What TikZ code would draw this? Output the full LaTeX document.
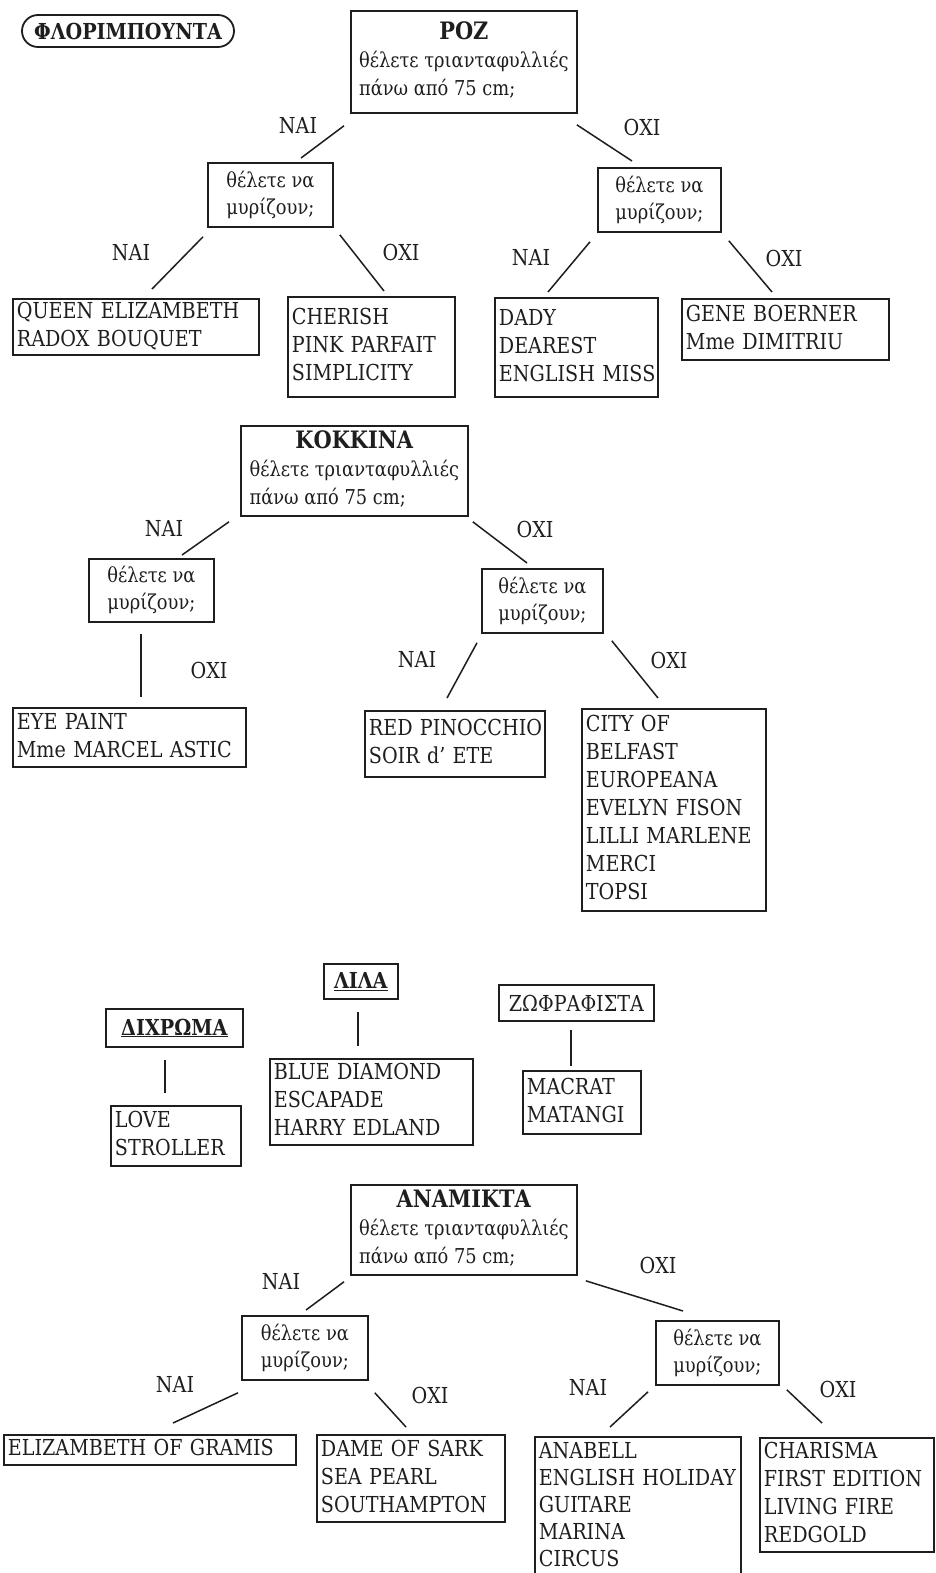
\documentclass[tikz,border=0pt]{standalone}
\usepackage{fontspec}
\setmainfont{DejaVu Serif}[FakeStretch=0.87]
\usetikzlibrary{calc}

\definecolor{ink}{HTML}{1E1E1E}
\newcommand{\mainsize}{\fontsize{22}{28}\selectfont}
\newcommand{\asksize}{\fontsize{20.5}{27}\selectfont}
\newcommand{\headsize}{\fontsize{24}{28}\selectfont}
% heading box: bold colour name, then the height question
\newcommand{\askhead}[1]{\begin{tabular}{@{}l@{}}\multicolumn{1}{@{}c@{}}{\headsize\textbf{#1}}\\
  {\asksize θέλετε τριανταφυλλιές}\\ {\asksize πάνω από 75 cm;}\end{tabular}}
% list of variety names, one per line, never wrapped
\newcommand{\names}[1]{\begin{tabular}{@{}l@{}}#1\end{tabular}}

\tikzset{
  frame/.style={draw=ink, line width=1.8pt, inner sep=0pt, text=ink},
  leaf/.style={frame, anchor=north west, align=left, inner xsep=4pt, font=\mainsize},
  ask/.style={frame, anchor=north west, align=center, font=\asksize},
  head/.style={frame, anchor=north west, font=\mainsize},
  link/.style={draw=ink, line width=1.5pt},
  answer/.style={font=\mainsize, inner sep=0pt, text=ink},
}

\begin{document}
\begin{tikzpicture}[x=1pt,y=-1pt]
\fill[white] (0,0) rectangle (936,1573);
\useasboundingbox (0,0) rectangle (936,1573);

% ---------- ΡΟΖ ----------
\node[frame, rounded corners=16pt, minimum width=212pt, minimum height=32pt,
      font=\mainsize\bfseries] (flori) at (128,31) {ΦΛΟΡΙΜΠΟΥΝΤΑ};
\node[head, minimum width=226pt, minimum height=102pt] (roz) at (350,10) {\askhead{ΡΟΖ}};
\node[ask, minimum width=125pt, minimum height=64pt] (q1l) at (207,162) {θέλετε να\\μυρίζουν;};
\node[ask, minimum width=123pt, minimum height=64pt] (q1r) at (597,167) {θέλετε να\\μυρίζουν;};
\node[answer] (a1y) at (298,126) {ΝΑΙ};
\node[answer] (a1n) at (642,127) {ΟΧΙ};
\draw[link] ($(roz.south west)+(-6,12)$) -- ($(q1l.north west)+(94,-4)$);
\draw[link] ($(roz.south east)+(-1,11)$) -- ($(q1r.north west)+(35,-6)$);

\node[leaf, text width=238pt, minimum height=53pt] (l1) at (12,298) {\names{QUEEN ELIZAMBETH\\RADOX BOUQUET}};
\node[leaf, text width=159pt, minimum height=100pt] (l2) at (287,296) {\names{CHERISH\\PINK PARFAIT\\SIMPLICITY}};
\node[leaf, text width=155pt, minimum height=99pt] (l3) at (494,297) {\names{DADY\\DEAREST\\ENGLISH MISS}};
\node[leaf, text width=199pt, minimum height=61pt] (l4) at (681,298) {\names{GENE BOERNER\\Mme DIMITRIU}};
\node[answer] (b1y) at (131,253) {ΝΑΙ};
\node[answer] (b1n) at (401,252) {ΟΧΙ};
\node[answer] (b2y) at (531,258) {ΝΑΙ};
\node[answer] (b2n) at (784,258) {ΟΧΙ};
\draw[link] ($(q1l.south west)+(-4,9)$) -- ($(l1.north west)+(140,-9)$);
\draw[link] ($(q1l.south east)+(6,7)$) -- ($(l2.north west)+(97,-5)$);
\draw[link] ($(q1r.south west)+(-7,9)$) -- ($(l3.north west)+(54,-5)$);
\draw[link] ($(q1r.south east)+(7,8)$) -- ($(l4.north west)+(91,-6)$);

% ---------- ΚΟΚΚΙΝΑ ----------
\node[head, minimum width=227pt, minimum height=90pt] (kok) at (240,425) {\askhead{ΚΟΚΚΙΝΑ}};
\node[ask, minimum width=125pt, minimum height=63pt] (q2l) at (88,558) {θέλετε να\\μυρίζουν;};
\node[ask, minimum width=121pt, minimum height=64pt] (q2r) at (481,568) {θέλετε να\\μυρίζουν;};
\node[answer] (c1y) at (164,529) {ΝΑΙ};
\node[answer] (c1n) at (535,529) {ΟΧΙ};
\draw[link] ($(kok.south west)+(-11,5)$) -- ($(q2l.north west)+(94,-3)$);
\draw[link] ($(kok.south east)+(4,5)$) -- ($(q2r.north west)+(46,-5)$);

\node[leaf, text width=225pt, minimum height=59pt] (eye) at (12,707) {\names{EYE PAINT\\Mme MARCEL ASTIC}};
\node[leaf, text width=172pt, minimum height=66pt] (red) at (364,710) {\names{RED PINOCCHIO\\SOIR d' ETE}};
\node[leaf, text width=176pt, minimum height=202pt] (city) at (581,708)
  {\names{CITY OF\\BELFAST\\EUROPEANA\\EVELYN FISON\\LILLI MARLENE\\MERCI\\TOPSI}};
\node[answer] (d1n) at (209,670) {ΟΧΙ};
\node[answer] (d2y) at (417,660) {ΝΑΙ};
\node[answer] (d2n) at (669,660) {ΟΧΙ};
\draw[link] ($(q2l.south west)+(53,11)$) -- ($(eye.north west)+(129,-10)$);
\draw[link] ($(q2r.south west)+(-4,9)$) -- ($(red.north west)+(83,-12)$);
\draw[link] ($(q2r.south east)+(8,7)$) -- ($(city.north west)+(77,-10)$);

% ---------- single-answer groups ----------
\node[head, minimum width=137pt, minimum height=38pt] (dix) at (105,1008) {\underline{\textbf{ΔΙΧΡΩΜΑ}}};
\node[leaf, text width=122pt, minimum height=60pt] (love) at (110,1105) {\names{LOVE\\STROLLER}};
\draw[link] ($(dix.south west)+(60,12)$) -- ($(love.north west)+(55,-12)$);

\node[head, minimum width=74pt, minimum height=35pt] (lila) at (323,963) {\underline{\textbf{ΛΙΛΑ}}};
\node[leaf, text width=195pt, minimum height=86pt] (blue) at (269,1058) {\names{BLUE DIAMOND\\ESCAPADE\\HARRY EDLAND}};
\draw[link] ($(lila.south west)+(35,12)$) -- ($(blue.north west)+(89,-12)$);

\node[head, minimum width=155pt, minimum height=36pt] (zog) at (498,984) {ΖΩΦΡΑΦΙΣΤΑ};
\node[leaf, text width=110pt, minimum height=63pt] (mac) at (522,1070) {\names{MACRAT\\MATANGI}};
\draw[link] ($(zog.south west)+(73,8)$) -- ($(mac.north west)+(49,-4)$);

% ---------- ΑΝΑΜΙΚΤΑ ----------
\node[head, minimum width=226pt, minimum height=90pt] (ana) at (350,1184) {\askhead{ΑΝΑΜΙΚΤΑ}};
\node[ask, minimum width=126pt, minimum height=64pt] (q4l) at (241,1315) {θέλετε να\\μυρίζουν;};
\node[ask, minimum width=123pt, minimum height=64pt] (q4r) at (655,1320) {θέλετε να\\μυρίζουν;};
\node[answer] (e1y) at (281,1282) {ΝΑΙ};
\node[answer] (e1n) at (658,1265) {ΟΧΙ};
\draw[link] ($(ana.south west)+(-6,6)$) -- ($(q4l.north west)+(65,-5)$);
\draw[link] ($(ana.south east)+(8,5)$) -- ($(q4r.north west)+(28,-9)$);

\node[leaf, text width=284pt, minimum height=30pt] (eliz) at (3,1434) {\names{ELIZAMBETH OF GRAMIS}};
\node[leaf, text width=180pt, minimum height=87pt] (dame) at (316,1434) {\names{DAME OF SARK\\SEA PEARL\\SOUTHAMPTON}};
\node[leaf, text width=198pt, minimum height=140pt, font=\fontsize{22}{27}\selectfont] (anab) at (534,1436)
  {\names{ANABELL\\ENGLISH HOLIDAY\\GUITARE\\MARINA\\CIRCUS}};
\node[leaf, text width=166pt, minimum height=114pt] (char) at (759,1437)
  {\names{CHARISMA\\FIRST EDITION\\LIVING FIRE\\REDGOLD}};
\node[answer] (f1y) at (175,1385) {ΝΑΙ};
\node[answer] (f1n) at (430,1395) {ΟΧΙ};
\node[answer] (f2y) at (588,1388) {ΝΑΙ};
\node[answer] (f2n) at (838,1389) {ΟΧΙ};
\draw[link] ($(q4l.south west)+(-3,12)$) -- ($(eliz.north west)+(170,-11)$);
\draw[link] ($(q4l.south east)+(6,12)$) -- ($(dame.north west)+(90,-7)$);
\draw[link] ($(q4r.south west)+(-7,6)$) -- ($(anab.north west)+(76,-9)$);
\draw[link] ($(q4r.south east)+(7,4)$) -- ($(char.north west)+(63,-14)$);
\end{tikzpicture}
\end{document}
